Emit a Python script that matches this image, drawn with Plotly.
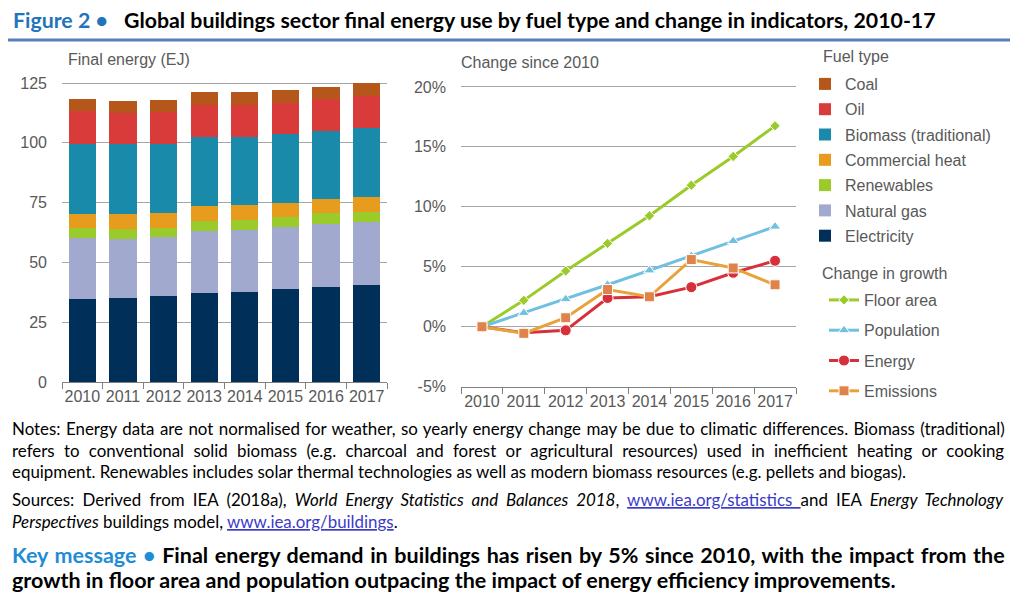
import plotly.graph_objects as go

# the page keeps the browser's 8px body margin, so the figure is 16px smaller
PAGE_W, PAGE_H = 1024, 603
OFF = 8
W, H = PAGE_W - 2 * OFF, PAGE_H - 2 * OFF

years = ["2010", "2011", "2012", "2013", "2014", "2015", "2016", "2017"]

# final energy by fuel (EJ), bottom of the stack first
electricity = [34.9, 35.3, 36.0, 37.1, 37.8, 38.7, 39.8, 40.4]
natural_gas = [25.4, 24.5, 24.8, 26.0, 25.6, 26.0, 26.3, 26.6]
renewables = [3.9, 4.0, 3.7, 4.2, 4.3, 4.1, 4.4, 4.2]
commercial_heat = [6.2, 6.3, 6.3, 6.4, 6.3, 5.9, 5.9, 6.3]
biomass_trad = [28.9, 29.2, 28.5, 28.7, 28.6, 28.8, 28.5, 28.6]
oil = [13.8, 13.1, 13.4, 13.4, 13.3, 13.1, 13.4, 13.6]
coal = [5.1, 5.2, 5.0, 5.3, 5.3, 5.5, 5.2, 5.3]

# change since 2010 (%)
floor_area = [0.0, 2.2, 4.65, 6.95, 9.25, 11.8, 14.2, 16.75]
population = [0.0, 1.15, 2.3, 3.5, 4.7, 5.9, 7.15, 8.35]
energy = [0.0, -0.5, -0.3, 2.4, 2.5, 3.3, 4.5, 5.5]
emissions = [0.0, -0.55, 0.75, 3.1, 2.5, 5.6, 4.9, 3.5]

y1_ticks = [0, 25, 50, 75, 100, 125]
y2_ticks = [-5, 0, 5, 10, 15, 20]
y2_labels = ["-5%", "0%", "5%", "10%", "15%", "20%"]

GREY_TXT = "#595959"
GRID = "#A6A6A6"
AXIS = "#808080"
CHART_FONT = "Liberation Sans, Arial, sans-serif"
TEXT_FONT = "Lato, Noto Sans, sans-serif"


def px(x):
    # page pixel -> paper fraction
    return max(x - OFF, 0) / W


def py(y):
    return 1 - (y - OFF) / H


def spread(text, gap):
    # rough stand-in for the justified lines of the original
    return f"<span style='word-spacing:{gap}px'>{text}</span>" if gap else text


fig = go.Figure()

fuels = [
    ("Electricity", electricity, "#00305A"),
    ("Natural gas", natural_gas, "#A1A9CF"),
    ("Renewables", renewables, "#9BCB2A"),
    ("Commercial heat", commercial_heat, "#E89C1E"),
    ("Biomass (traditional)", biomass_trad, "#1A8AAB"),
    ("Oil", oil, "#D93A3A"),
    ("Coal", coal, "#B5561B"),
]
for i, (name, vals, color) in enumerate(fuels):
    fig.add_bar(
        x=years, y=vals, name=name, marker_color=color, marker_line_width=0,
        xaxis="x", yaxis="y", legend="legend", legendgroup=name,
        legendrank=len(fuels) - i,
    )

growth = [
    ("Floor area", floor_area, "#9BCB2A", "#9BCB2A", "diamond", 8),
    ("Population", population, "#70C1E0", "#70C1E0", "triangle-up", 10),
    ("Energy", energy, "#D7303A", "#D7303A", "circle", 11),
    ("Emissions", emissions, "#E8A23A", "#E0834A", "square", 10),
]
for name, vals, lcolor, mcolor, sym, size in growth:
    fig.add_scatter(
        x=years, y=vals, name=name, mode="lines+markers",
        line=dict(color=lcolor, width=3),
        marker=dict(symbol=sym, size=size, color=mcolor, line=dict(color="white", width=1)),
        xaxis="x2", yaxis="y2", legend="legend2", legendgroup=name,
    )

xcommon = dict(
    type="category", range=[-0.5, 7.5], tickson="boundaries", ticks="outside",
    ticklen=6, tickcolor=AXIS, showline=True, linecolor=AXIS, linewidth=1,
    showgrid=False, tickangle=0, automargin=False,
    tickfont=dict(size=16, color=GREY_TXT, family=CHART_FONT), fixedrange=True,
)
ycommon = dict(
    showgrid=True, gridcolor=GRID, gridwidth=1, zeroline=False, showline=False,
    ticks="", ticklabelstandoff=14, automargin=False,
    tickfont=dict(size=16, color=GREY_TXT, family=CHART_FONT), fixedrange=True,
)

notes = [
    "Notes: Energy data are not normalised for weather, so yearly energy change may be due to climatic differences. Biomass (traditional)",
    "refers to conventional solid biomass (e.g. charcoal and forest or agricultural resources) used in inefficient heating or cooking",
    "equipment. Renewables includes solar thermal technologies as well as modern biomass resources (e.g. pellets and biogas).",
]
notes_gap = [1.1, 5.0, 0]
link = "color:#3B3BC8"
sources = [
    "Sources: Derived from IEA (2018a), <i>World Energy Statistics and Balances 2018</i>, "
    f"<span style='{link}'><u>www.iea.org/statistics </u></span>and IEA <i>Energy Technology</i>",
    f"<i>Perspectives</i> buildings model, <span style='{link}'><u>www.iea.org/buildings</u></span>.",
]
sources_gap = [3.9, 0]
key_msg = [
    "<span style='color:#1F8DD6'>Key message •</span> Final energy demand in buildings has risen by 5% since 2010, with the impact from the",
    "growth in floor area and population outpacing the impact of energy efficiency improvements.",
]
key_gap = [1.4, 0]

annotations = [
    dict(x=px(11), y=py(20), text="<b><span style='color:#1F74BA'>Figure 2 •</span></b>",
         font=dict(size=21.3, family=TEXT_FONT)),
    dict(x=px(122), y=py(20),
         text="<b>Global buildings sector final energy use by fuel type and change in indicators, 2010-17</b>",
         font=dict(size=21.3, family=TEXT_FONT, color="black")),
    dict(x=px(66), y=py(60), text="Final energy (EJ)",
         font=dict(size=16, family=CHART_FONT, color=GREY_TXT)),
    dict(x=px(459), y=py(63), text="Change since 2010",
         font=dict(size=16, family=CHART_FONT, color=GREY_TXT)),
    dict(x=px(821), y=py(57), text="Fuel type",
         font=dict(size=16, family=CHART_FONT, color=GREY_TXT)),
    dict(x=px(820), y=py(273), text="Change in growth",
         font=dict(size=16, family=CHART_FONT, color=GREY_TXT)),
]
for i, t in enumerate(notes):
    annotations.append(dict(x=px(10), y=py(428 + 22 * i), text=spread(t, notes_gap[i]),
                            font=dict(size=16.9, family=TEXT_FONT, color="black")))
for i, t in enumerate(sources):
    annotations.append(dict(x=px(10), y=py(499 + 22 * i), text=spread(t, sources_gap[i]),
                            font=dict(size=16.9, family=TEXT_FONT, color="black")))
for i, t in enumerate(key_msg):
    annotations.append(dict(x=px(10), y=py(555 + 25 * i), text=f"<b>{spread(t, key_gap[i])}</b>",
                            font=dict(size=21.5, family=TEXT_FONT, color="black")))
for a in annotations:
    a.update(xref="paper", yref="paper", xanchor="left", yanchor="middle",
             showarrow=False)

legend_font = dict(size=16, color=GREY_TXT, family=CHART_FONT)

fig.update_layout(
    width=W, height=H,
    margin=dict(l=0, r=0, t=0, b=0, autoexpand=False),
    paper_bgcolor="white", plot_bgcolor="white",
    barmode="stack", bargap=0.33,
    showlegend=True,
    xaxis=dict(xcommon, domain=[px(62), px(387)], anchor="y"),
    yaxis=dict(ycommon, domain=[py(382), py(81.8)], range=[0, 125.5],
               tickvals=y1_ticks, anchor="x"),
    xaxis2=dict(xcommon, domain=[px(461), px(796)], anchor="y2"),
    yaxis2=dict(ycommon, domain=[py(386.7), py(84.5)], range=[-5, 20.2],
                tickvals=y2_ticks, ticktext=y2_labels, anchor="x2"),
    legend=dict(x=px(805), y=py(67), xanchor="left", yanchor="top",
                traceorder="grouped", tracegroupgap=1.5, font=legend_font,
                bgcolor="rgba(0,0,0,0)"),
    legend2=dict(x=px(824), y=py(283), xanchor="left", yanchor="top",
                 traceorder="grouped", tracegroupgap=6.5, font=legend_font,
                 bgcolor="rgba(0,0,0,0)"),
    annotations=annotations,
    shapes=[dict(type="line", xref="paper", yref="paper", x0=px(3), x1=px(1010),
                 y0=py(40), y1=py(40), line=dict(color="#5B7DB5", width=3))],
)

fig.write_html("out.html")
